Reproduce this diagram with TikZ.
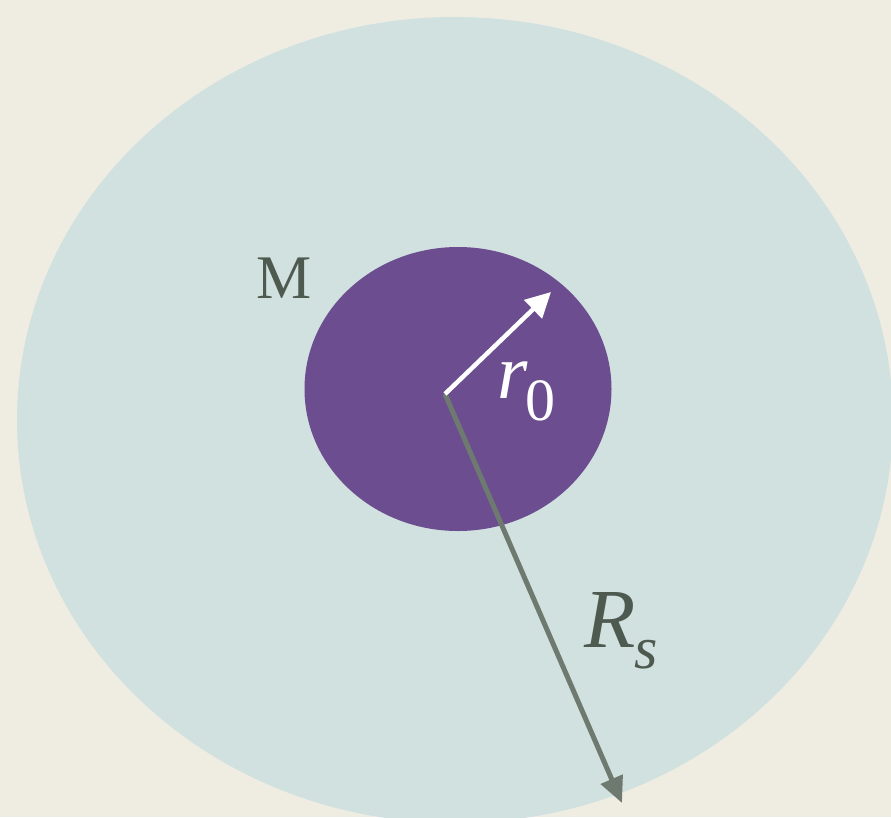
\documentclass[tikz,border=0pt]{standalone}
\usepackage{fontspec}
\setmainfont{Liberation Serif}[
  ItalicFont=Liberation Serif Italic]
\usepackage{tikz}
\usetikzlibrary{arrows.meta,shapes.geometric}

\definecolor{paper}{HTML}{EFEDE2}
\definecolor{halo}{HTML}{D1E1E0}
\definecolor{core}{HTML}{6C4D8F}
\definecolor{ray}{HTML}{6E7A70}
\definecolor{ink}{HTML}{4E5A50}

\begin{document}
\begin{tikzpicture}[
    x=1pt,y=-1pt,
    disc/.style={ellipse,inner sep=0pt,draw=none},
    lbl/.style={inner sep=0pt,anchor=base west},
    arr/.style={line width=#1}
  ]
    \useasboundingbox[fill=paper] (0,0) rectangle (891,817);

    \node[disc,fill=halo,minimum width=876pt,minimum height=806pt] (sphere) at (455,420) {};
    \node[disc,fill=core,minimum width=307pt,minimum height=284pt] (star) at (458,389) {};

    \coordinate (centre) at (445,394);
    \coordinate (rtip) at (551,292);
    \coordinate (Rtip) at (622,803);

    \draw[arr=5pt,ray,-{Triangle[length=26pt,width=23pt]}] (centre) -- (Rtip);
    \draw[arr=4.5pt,white,-{Triangle[length=25pt,width=25pt]}] (centre) -- (rtip);

    \node[lbl,text=ink,font=\fontsize{62}{62}\selectfont] (mass) at (256,298) {M};
    \node[lbl,text=white,font=\fontsize{78}{78}\selectfont] (rzero) at (497,398)
      {\textit{r}\kern-2pt\raisebox{-22pt}{\fontsize{60}{60}\selectfont 0}};
    \node[lbl,text=ink,font=\fontsize{84}{84}\selectfont] (Rs) at (584,647)
      {\textit{R}\kern-1pt\raisebox{-21pt}{\fontsize{60}{60}\selectfont\itshape s}};
  \end{tikzpicture}
\end{document}
